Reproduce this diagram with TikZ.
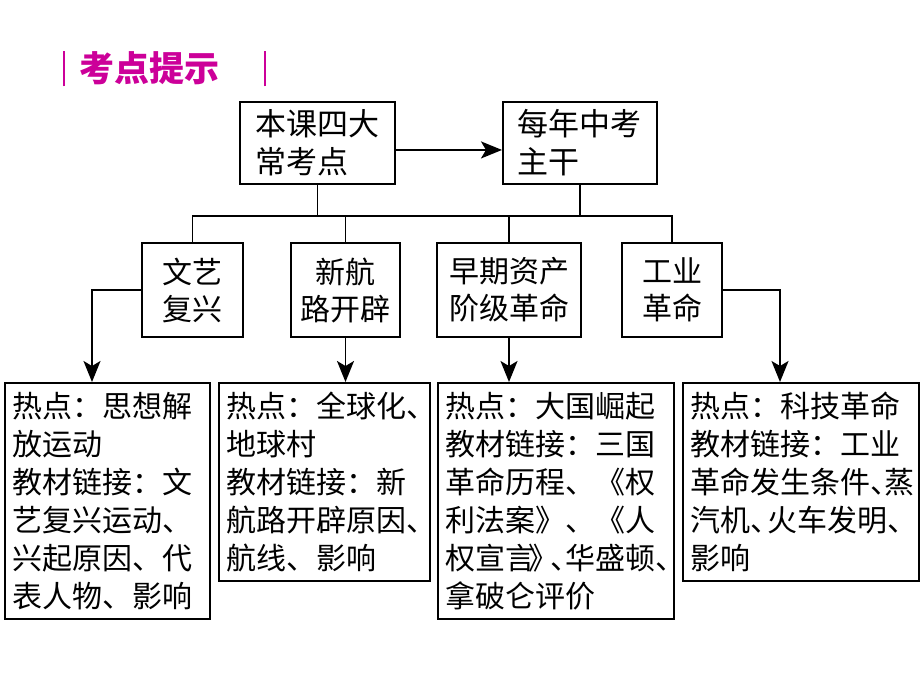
\documentclass[tikz,border=0pt]{standalone}
\usepackage{fontspec}
\setmainfont{Noto Sans CJK SC}
\usepackage{tikz}
\usetikzlibrary{positioning,arrows.meta}
\definecolor{tipmagenta}{RGB}{204,0,153}
\newcommand{\dun}{、\kern-.5em}

\begin{document}
\begin{tikzpicture}[x=1pt, y=-1pt, line width=1.9pt,
  >={Stealth[length=21pt, width=17pt, inset=5pt]},
  topbox/.style={draw, anchor=north west, minimum height=82pt, align=left, font=\fontsize{31}{38}\selectfont},
  midbox/.style={draw, minimum height=94pt, align=center, font=\fontsize{30}{37}\selectfont},
  hotbox/.style={draw, anchor=north west, align=left, inner xsep=8pt, inner ysep=9pt, font=\fontsize{30}{38}\selectfont}]
\useasboundingbox (0,0) rectangle (920,690);

\node (tip_title) at (62,69) [anchor=west, inner sep=0pt, text=tipmagenta, font=\fontsize{35}{40}\selectfont\bfseries]
  {\rule[-5pt]{2pt}{35pt}\hspace{15pt}考点提示\hspace{44pt}\rule[-5pt]{2pt}{35pt}};

\node (main_points) at (239,101) [topbox, minimum width=155pt] {本课四大\\常考点};
\node (yearly_core) at (502,101) [topbox, minimum width=154pt] {每年中考\\主干};
\draw [->] ([yshift=-7pt]main_points.east) -- ([yshift=-7pt]yearly_core.west);

\node (renaissance) at (192.5,290) [midbox, minimum width=101pt] {文艺\\复兴};
\node (new_route) at (345.5,290) [midbox, minimum width=109pt] {新航\\路开辟};
\node (bourgeois_rev) at (509,290) [midbox, minimum width=144pt] {早期资产\\阶级革命};
\node (industrial) at (672,290) [midbox, minimum width=100pt] {工业\\革命};

\coordinate (bus) at (0,216);
\draw (main_points) -- (main_points |- bus);
\draw (yearly_core) -- (yearly_core |- bus);
\draw (renaissance) |- (bus -| industrial) -- (industrial);
\draw (new_route) -- (new_route |- bus);
\draw (bourgeois_rev) -- (bourgeois_rev |- bus);

\node (hot_renaissance) at (4,382) [hotbox, text width=189pt]
  {热点：思想解\\放运动\\教材链接：文\\艺复兴运动、\\兴起原因、代\\表人物、影响};
\node (hot_new_route) at (218,382) [hotbox, text width=195pt]
  {热点：全球化\dun\\地球村\\教材链接：新\\航路开辟原因\dun\\航线、影响};
\node (hot_bourgeois) at (437,382) [hotbox, text width=220pt]
  {热点：大国崛起\\教材链接：三国\\革命历程、《权\\利法案》、《人\\权宣言\kern-.25em》\kern-.25em、\kern-.5em华盛顿\dun\\拿破仑评价};
\node (hot_industrial) at (682,382) [hotbox, text width=220pt]
  {热点：科技革命\\教材链接：工业\\革命发生条件、\kern-.55em蒸\\汽机、\kern-.45em火车发明\dun\\影响};

\draw [->] (renaissance.west) -| ([xshift=88pt]hot_renaissance.north west);
\draw [->] (new_route) -- (new_route |- hot_new_route.north);
\draw [->] (bourgeois_rev) -- (bourgeois_rev |- hot_bourgeois.north);
\draw [->] (industrial.east) -| ([xshift=98pt]hot_industrial.north west);
\end{tikzpicture}
\end{document}
